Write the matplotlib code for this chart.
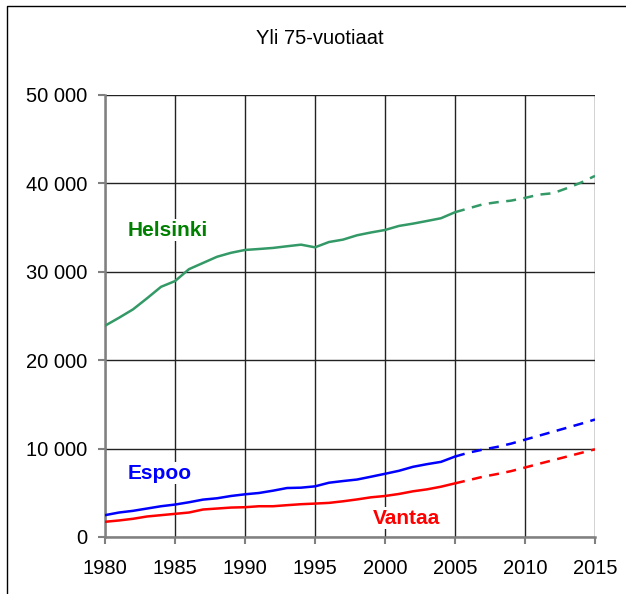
import matplotlib
matplotlib.use("Agg")
import matplotlib.pyplot as plt
from matplotlib.lines import Line2D

years_hist = list(range(1980, 2006))
years_proj = list(range(2005, 2016))

helsinki_hist = [23900, 24800, 25750, 27000, 28300, 28950, 30300, 31000, 31700, 32150,
                 32470, 32580, 32700, 32890, 33070, 32770, 33370, 33640, 34130, 34450,
                 34730, 35190, 35450, 35750, 36060, 36740]
helsinki_proj = [36740, 37190, 37640, 37870, 38050, 38360, 38730, 38890, 39460, 40090, 40850]

espoo_hist = [2470, 2770, 2960, 3220, 3480, 3670, 3930, 4230, 4380, 4640,
              4830, 4980, 5240, 5540, 5580, 5730, 6140, 6330, 6500, 6820,
              7150, 7490, 7940, 8240, 8500, 9100]
espoo_proj = [9100, 9550, 9890, 10190, 10560, 11010, 11460, 11910, 12360, 12810, 13290]

vantaa_hist = [1720, 1870, 2060, 2320, 2470, 2620, 2770, 3110, 3220, 3330,
               3370, 3480, 3480, 3600, 3710, 3780, 3860, 4040, 4250, 4490,
               4640, 4870, 5170, 5390, 5690, 6070]
vantaa_proj = [6070, 6440, 6820, 7120, 7450, 7860, 8280, 8690, 9100, 9510, 9920]

x_ticks = [1980, 1985, 1990, 1995, 2000, 2005, 2010, 2015]
y_ticks = [0, 10000, 20000, 30000, 40000, 50000]
y_labels = ["0", "10 000", "20 000", "30 000", "40 000", "50 000"]

plt.rcParams['font.family'] = ['Liberation Sans', 'DejaVu Sans']

fig = plt.figure(figsize=(6.26, 5.94), dpi=100)
ax = fig.add_axes([105/626, 1-537/594, 490/626, 442/594])

c_h, c_e, c_v = '#339966', '#0000FF', '#FF0000'
ax.plot(years_hist, helsinki_hist, color=c_h, lw=1.8, zorder=3)
ax.plot(years_proj, helsinki_proj, color=c_h, lw=1.8, ls=(0, (4, 3)), zorder=3)
ax.plot(years_hist, espoo_hist, color=c_e, lw=1.8, zorder=3)
ax.plot(years_proj, espoo_proj, color=c_e, lw=1.8, ls=(0, (4, 3)), zorder=3)
ax.plot(years_hist, vantaa_hist, color=c_v, lw=1.8, zorder=3)
ax.plot(years_proj, vantaa_proj, color=c_v, lw=1.8, ls=(0, (4, 3)), zorder=3)

ax.set_xlim(1980, 2015)
ax.set_ylim(0, 50000)
ax.set_xticks(x_ticks)
ax.set_xticklabels([str(t) for t in x_ticks], fontsize=14.5)
ax.set_yticks(y_ticks)
ax.set_yticklabels(y_labels, fontsize=14.5)
ax.grid(True, color='#222222', lw=1.0, zorder=1)
ax.set_axisbelow(True)
for s in ['top', 'right']:
    ax.spines[s].set_visible(False)
for s in ['left', 'bottom']:
    ax.spines[s].set_color('#808080')
    ax.spines[s].set_linewidth(1.8)
ax.tick_params(direction='out', length=5, width=1.5, color='#808080', labelcolor='black')
ax.tick_params(axis='y', pad=8)
ax.tick_params(axis='x', pad=11)

bb = dict(facecolor='white', edgecolor='none', pad=1)
ax.text(1981.6, 34700, "Helsinki", color='#008000', fontsize=15, fontweight='bold',
        va='center', ha='left', bbox=bb, zorder=4)
ax.text(1981.6, 7200, "Espoo", color='#0000FF', fontsize=15, fontweight='bold',
        va='center', ha='left', bbox=bb, zorder=4)
ax.text(1999.1, 2100, "Vantaa", color='#FF0000', fontsize=15, fontweight='bold',
        va='center', ha='left', bbox=bb, zorder=4)

fig.text(320/626, 1-38/594, "Yli 75-vuotiaat", ha='center', va='center', fontsize=14.5)

fig.add_artist(Line2D([7/626, 7/626, 1], [0, 1-6/594, 1-6/594],
                      transform=fig.transFigure, color='black', lw=1))

fig.savefig("out.png", dpi=100)
